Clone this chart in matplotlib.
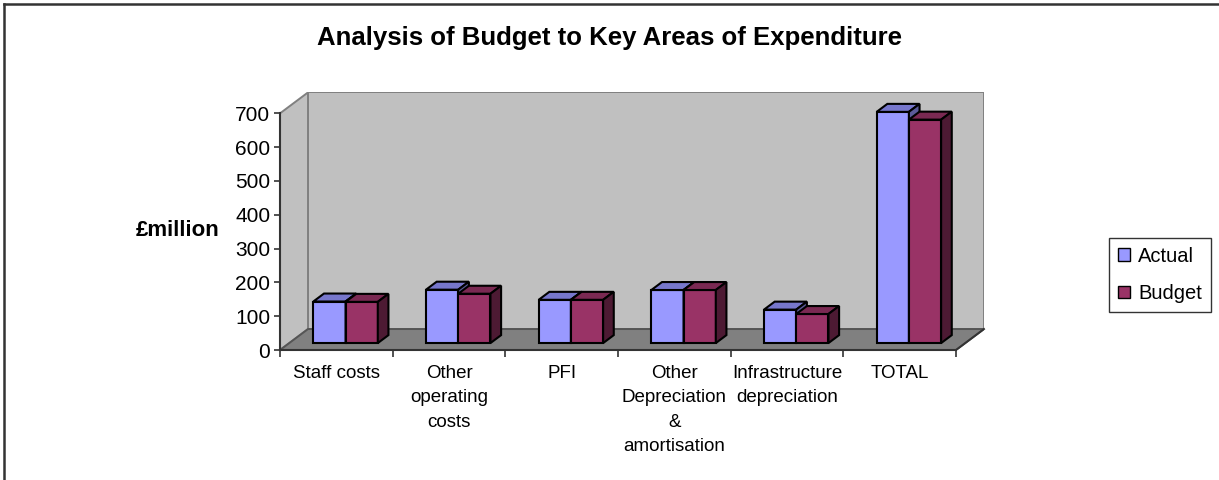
import numpy as np
import matplotlib
matplotlib.use('Agg')
import matplotlib.pyplot as plt
from matplotlib.patches import Polygon, Patch
from matplotlib.lines import Line2D

plt.rcParams['font.family'] = ['Liberation Sans', 'DejaVu Sans']

# data (£million)
categories = ['Staff costs', 'Other\noperating\ncosts', 'PFI', 'Other\nDepreciation\n&\namortisation',
              'Infrastructure\ndepreciation', 'TOTAL']
actual = [123, 158, 128, 157, 99, 684]
budget = [122, 146, 128, 157, 86, 661]
series_names = ['Actual', 'Budget']
y_ticks = [0, 100, 200, 300, 400, 500, 600, 700]

# excel-like 3D colours: front, top, side
actual_colors = ('#9999FF', '#7777CC', '#5B5B99')
budget_colors = ('#993366', '#7A2952', '#4D1A33')

# depth of the fake 3D box in data units
DX = 0.2485     # categories
DY = 62.0       # £million
Z0, Z1 = 0.33, 0.71   # bar depth range (fraction of the box depth)
BAR_W = 0.286

W, H = 1219, 480
fig = plt.figure(figsize=(W / 100, H / 100), dpi=100)
ax = fig.add_axes([280 / W, 130 / H, 704 / W, 257.6 / H])
n = len(categories)
ax.set_xlim(-0.5, n - 0.5 + DX)
ax.set_ylim(0, y_ticks[-1] + DY)
ax.patch.set_visible(False)

ymax = y_ticks[-1]
wall_edge = '#808080'
# back wall, side wall and floor
ax.add_patch(Polygon([(-0.5 + DX, DY), (n - 0.5 + DX, DY), (n - 0.5 + DX, ymax + DY), (-0.5 + DX, ymax + DY)],
                     closed=True, facecolor='#C0C0C0', edgecolor=wall_edge, lw=1.4, zorder=1))
ax.add_patch(Polygon([(-0.5, 0), (-0.5 + DX, DY), (-0.5 + DX, ymax + DY), (-0.5, ymax)],
                     closed=True, facecolor='#C0C0C0', edgecolor=wall_edge, lw=1.4, zorder=1))
ax.add_patch(Polygon([(-0.5, 0), (n - 0.5, 0), (n - 0.5 + DX, DY), (-0.5 + DX, DY)],
                     closed=True, facecolor='#808080', edgecolor='#555555', lw=1.4, zorder=2))


def draw_bar(x0, v, colors, z):
    x1 = x0 + BAR_W
    fx0, fx1 = x0 + Z0 * DX, x1 + Z0 * DX
    bx0, bx1 = x0 + Z1 * DX, x1 + Z1 * DX
    fy, by = Z0 * DY, Z1 * DY
    kw = dict(closed=True, edgecolor='black', lw=1.5, joinstyle='miter')
    ax.add_patch(Polygon([(fx0, fy), (fx1, fy), (fx1, v + fy), (fx0, v + fy)], facecolor=colors[0], zorder=z, **kw))
    ax.add_patch(Polygon([(fx0, v + fy), (fx1, v + fy), (bx1, v + by), (bx0, v + by)], facecolor=colors[1], zorder=z, **kw))
    ax.add_patch(Polygon([(fx1, fy), (bx1, by), (bx1, v + by), (fx1, v + fy)], facecolor=colors[2], zorder=z, **kw))


z = 3
for i in range(n):
    draw_bar(i - BAR_W, actual[i], actual_colors, z)
    draw_bar(i, budget[i], budget_colors, z + 1)
    z += 2

# axes lines
for side in ['top', 'right']:
    ax.spines[side].set_visible(False)
for side in ['left', 'bottom']:
    ax.spines[side].set_color('#333333')
    ax.spines[side].set_linewidth(1.5)
    ax.spines[side].set_zorder(50)
ax.spines['left'].set_bounds(0, ymax)
ax.spines['bottom'].set_bounds(-0.5, n - 0.5)

ax.set_yticks(y_ticks)
ax.set_yticklabels([str(t) for t in y_ticks], fontsize=15)
ax.tick_params(axis='y', direction='out', length=4, width=1.2, color='#333333', pad=3)

ax.set_xticks(np.arange(-0.5, n, 1.0))
ax.set_xticklabels([])
ax.set_xticks(np.arange(n), minor=True)
ax.set_xticklabels(categories, minor=True, fontsize=13.5, linespacing=1.55)
ax.tick_params(axis='x', which='major', direction='out', length=5, width=1.2, color='#333333')
ax.tick_params(axis='x', which='minor', length=0, pad=11)

# floor diagonal edge at the right end
ax.plot([n - 0.5, n - 0.5 + DX], [0, DY], color='#333333', lw=1.4, zorder=51, clip_on=False)

fig.text(0.5, 1 - 38 / H, 'Analysis of Budget to Key Areas of Expenditure',
         ha='center', va='center', fontsize=18.5, fontweight='bold')
fig.text(178 / W, 1 - 231 / H, '£million', ha='center', va='center', fontsize=16, fontweight='bold')

handles = [Patch(facecolor=actual_colors[0], edgecolor='black', lw=1.0),
           Patch(facecolor=budget_colors[0], edgecolor='black', lw=1.0)]
leg = fig.legend(handles, series_names, loc='center left', bbox_to_anchor=(1109 / W, 1 - 275 / H),
                 fontsize=14.5, frameon=True, fancybox=False, handlelength=0.6, handleheight=0.6,
                 labelspacing=0.9, borderpad=0.45, handletextpad=0.4, borderaxespad=0)
leg.get_frame().set_edgecolor('black')
leg.get_frame().set_linewidth(1.0)

# outer chart border (only top and left are inside the crop)
fig.add_artist(Line2D([3.5 / W, 3.5 / W], [0, 1 - 3.5 / H], color='#333333', lw=1.8))
fig.add_artist(Line2D([3.5 / W, 1], [1 - 3.5 / H, 1 - 3.5 / H], color='#333333', lw=1.8))

fig.savefig('out.png', dpi=100)
